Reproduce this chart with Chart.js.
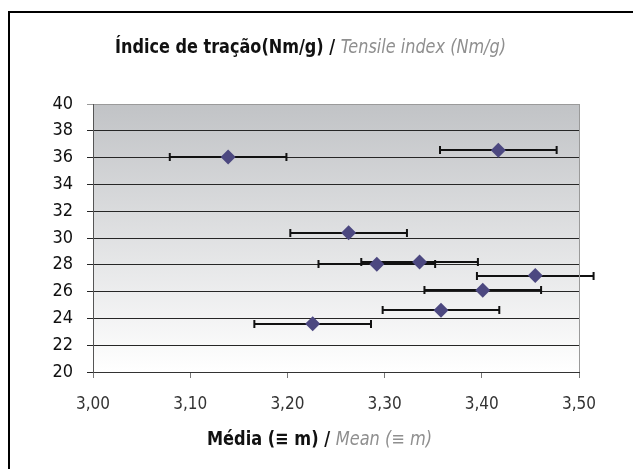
<!DOCTYPE html>
<html lang="pt">
<head>
  <meta charset="UTF-8">
  <title>Índice de tração</title>
  <script src="https://cdn.jsdelivr.net/npm/chart.js"></script>
  <style>
    body {
      margin: 0;
      background: #fff;
    }

    .chart-box {
      position: relative;
      width: 633px;
      height: 469px;
    }
  </style>
</head>
<body>

<div class="chart-box">
  <canvas id="tensileChart"></canvas>
</div>

<script>
  // mean (x), tensile index (y) and half width of the horizontal bar
  const meanValues = [3.139, 3.417, 3.263, 3.292, 3.336, 3.455, 3.401, 3.358, 3.226];
  const tensileIndex = [36.05, 36.55, 30.4, 28.05, 28.2, 27.2, 26.1, 24.6, 23.6];
  const meanSpread = [0.06, 0.06, 0.06, 0.06, 0.06, 0.06, 0.06, 0.06, 0.06];

  const xTickLabels = ['3,00', '3,10', '3,20', '3,30', '3,40', '3,50'];
  const yTickLabels = ['20', '22', '24', '26', '28', '30', '32', '34', '36', '38', '40'];

  const narrow = "'Liberation Sans Narrow', 'DejaVu Sans Condensed', 'Arial Narrow', sans-serif";

  const points = meanValues.map((m, i) => ({ x: m, y: tensileIndex[i] }));

  // gradient behind the plot + frame round the whole chart
  const backdrop = {
    id: 'backdrop',
    beforeDraw(chart) {
      const { ctx, chartArea: a } = chart;
      ctx.save();
      const g = ctx.createLinearGradient(0, a.top, 0, a.bottom);
      g.addColorStop(0, '#c1c3c6');
      g.addColorStop(1, '#ffffff');
      ctx.fillStyle = g;
      ctx.fillRect(a.left, a.top, a.right - a.left, a.bottom - a.top);

      ctx.strokeStyle = '#000';
      ctx.lineWidth = 2;
      ctx.strokeRect(9, 12, 700, 600);
      ctx.restore();
    },
    afterDraw(chart) {
      const { ctx, chartArea: a } = chart;
      ctx.save();
      // right edge of plot
      ctx.strokeStyle = '#9a9a9a';
      ctx.lineWidth = 1;
      ctx.beginPath();
      ctx.moveTo(a.right + 0.5, a.top);
      ctx.lineTo(a.right + 0.5, a.bottom);
      ctx.stroke();

      // two-tone titles (pt in black, en in grey italic)
      drawTwoTone(ctx, 'Índice de tração(Nm/g) / ', 'Tensile index (Nm/g)', 115, 48, 391);
      drawTwoTone(ctx, 'Média (≡ m) / ', 'Mean (≡ m)', 207, 440, 225);
      ctx.restore();
    }
  };

  // squeezes the text to the given width so it looks like a narrow face
  function drawTwoTone(ctx, first, second, left, cy, width) {
    const f1 = 'bold 19px ' + narrow;
    const f2 = 'italic 19px ' + narrow;
    ctx.font = f1;
    const w1 = ctx.measureText(first).width;
    ctx.font = f2;
    const w2 = ctx.measureText(second).width;
    ctx.save();
    ctx.translate(left, cy);
    ctx.scale(width / (w1 + w2), 1);
    ctx.textBaseline = 'middle';
    ctx.textAlign = 'left';
    ctx.font = f1;
    ctx.fillStyle = '#111';
    ctx.fillText(first, 0, 0);
    ctx.font = f2;
    ctx.fillStyle = '#8f8f8f';
    ctx.fillText(second, w1, 0);
    ctx.restore();
  }

  // horizontal error bars, drawn before the diamonds
  const errorBars = {
    id: 'errorBars',
    beforeDatasetsDraw(chart) {
      const { ctx, scales: { x, y } } = chart;
      ctx.save();
      ctx.strokeStyle = '#111';
      ctx.lineWidth = 2;
      meanValues.forEach((m, i) => {
        const x0 = x.getPixelForValue(m - meanSpread[i]);
        const x1 = x.getPixelForValue(m + meanSpread[i]);
        const py = Math.round(y.getPixelForValue(tensileIndex[i]));
        ctx.beginPath();
        ctx.moveTo(x0, py);
        ctx.lineTo(x1, py);
        ctx.moveTo(x0, py - 4);
        ctx.lineTo(x0, py + 4);
        ctx.moveTo(x1, py - 4);
        ctx.lineTo(x1, py + 4);
        ctx.stroke();
      });
      ctx.restore();
    }
  };

  new Chart(document.getElementById('tensileChart'), {
    type: 'scatter',
    data: {
      datasets: [{
        data: points,
        pointStyle: 'rectRot',
        pointRadius: 7.5,
        pointHoverRadius: 7.5,
        backgroundColor: '#4c4880',
        borderColor: '#4c4880',
        borderWidth: 0
      }]
    },
    options: {
      responsive: true,
      maintainAspectRatio: false,
      animation: false,
      layout: {
        padding: { left: 0, top: 104, right: 54, bottom: 0 }
      },
      plugins: {
        legend: { display: false },
        tooltip: { enabled: false }
      },
      scales: {
        x: {
          type: 'linear',
          min: 3.0,
          max: 3.5,
          afterFit: s => { s.height = 97; },
          afterBuildTicks: s => {
            s.ticks = xTickLabels.map(t => ({ value: parseFloat(t.replace(',', '.')) }));
          },
          ticks: {
            callback: (v, i) => xTickLabels[i],
            color: '#333',
            padding: 16,
            font: { family: narrow, size: 17 },
            maxRotation: 0
          },
          grid: {
            drawOnChartArea: false,
            tickLength: 6,
            color: '#777'
          },
          border: { color: '#333', width: 1 }
        },
        y: {
          min: 20,
          max: 40,
          afterFit: s => { s.width = 93; },
          afterBuildTicks: s => {
            s.ticks = yTickLabels.map(t => ({ value: Number(t) }));
          },
          ticks: {
            callback: (v, i) => yTickLabels[i],
            color: '#111',
            padding: 14,
            font: { family: narrow, size: 18 }
          },
          grid: {
            tickLength: 6,
            color: ctx => ctx.tick && ctx.tick.value === 40 ? '#9a9a9a' : '#262626',
            lineWidth: 1
          },
          border: { color: '#555', width: 1 }
        }
      }
    },
    plugins: [backdrop, errorBars]
  });
</script>

</body>
</html>
